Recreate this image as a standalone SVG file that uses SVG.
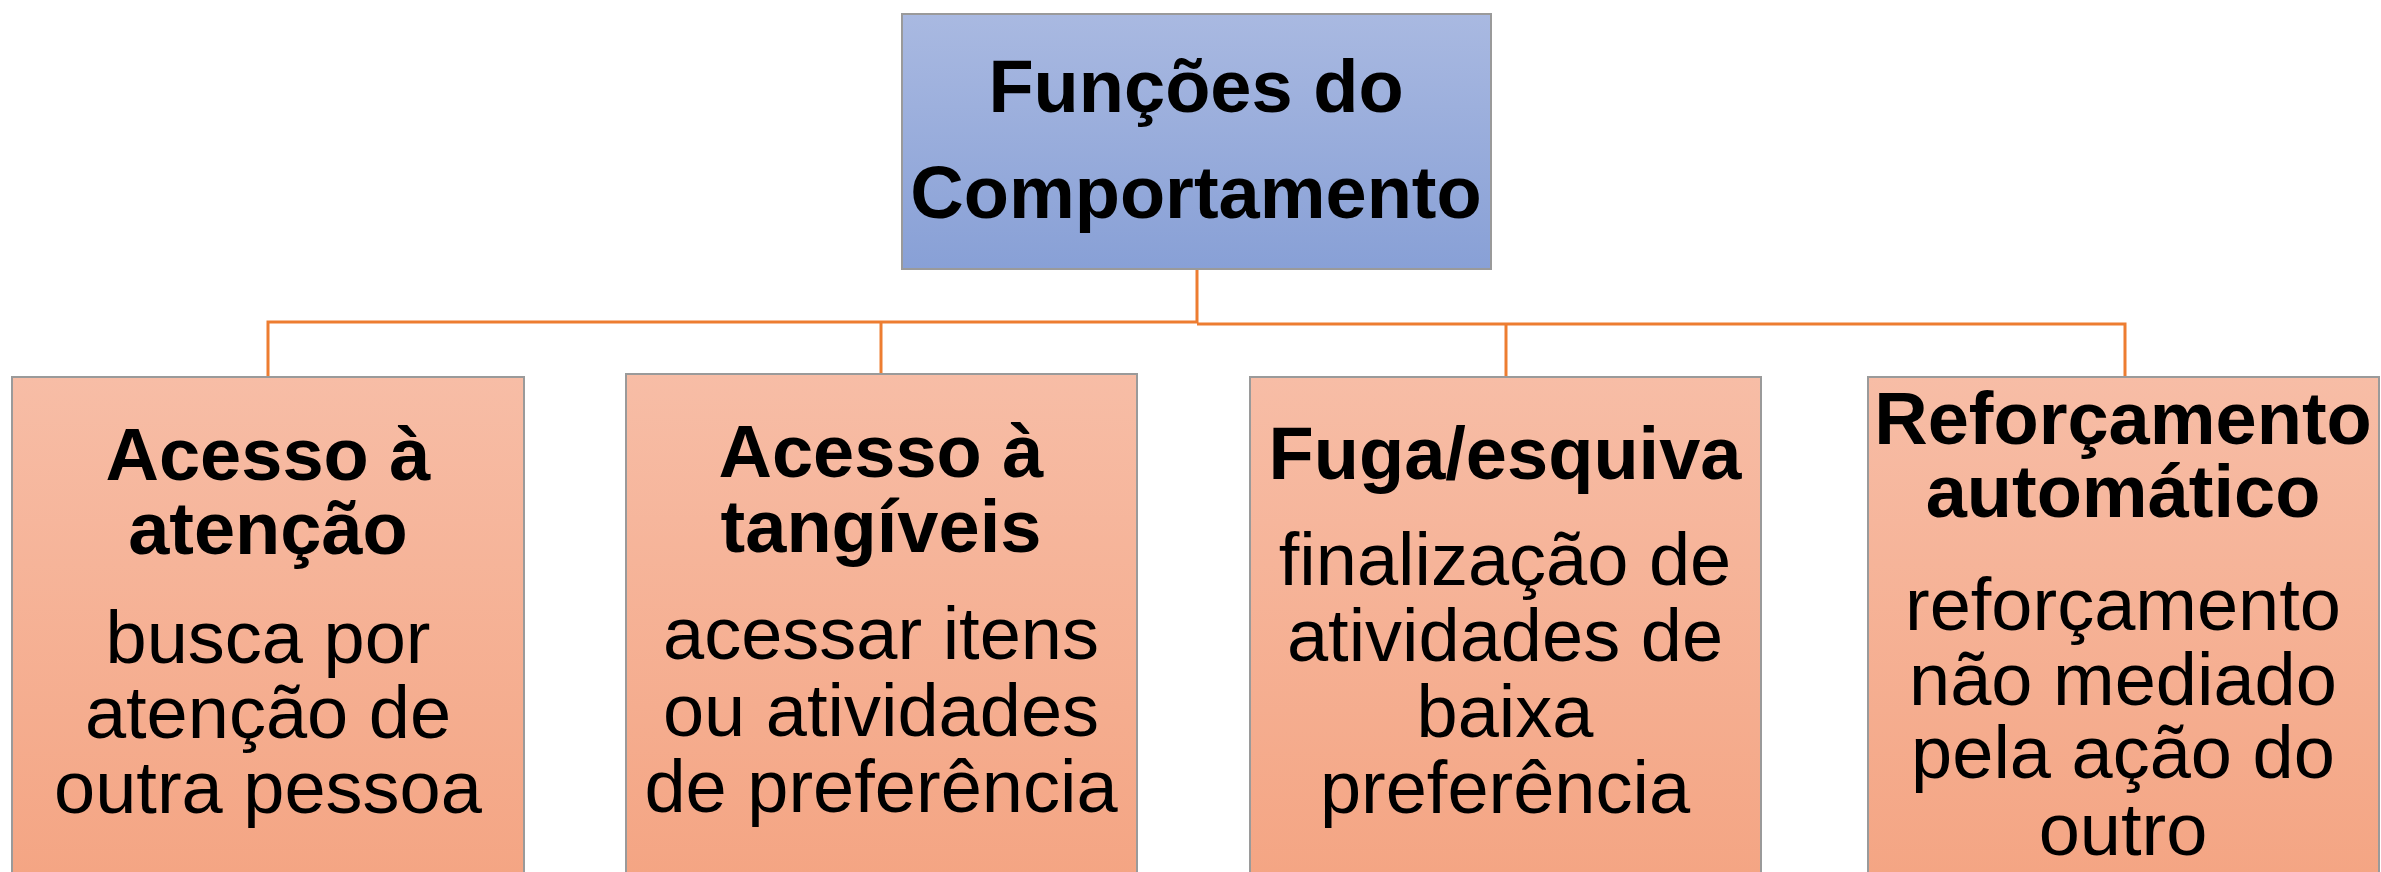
<svg xmlns="http://www.w3.org/2000/svg" width="2381" height="872" viewBox="0 0 2381 872">
<style>
.t{font-family:"Liberation Sans",Arial,sans-serif;font-size:74px;fill:#000;text-anchor:middle}
.b{font-weight:bold}
.box{stroke:#9a9a9a;stroke-width:2}
.con{fill:none;stroke:#ed7d31;stroke-width:3}
</style>
<defs>
<linearGradient id="gb" x1="0" y1="0" x2="0" y2="1">
<stop offset="0" stop-color="#a9b9e1"/>
<stop offset="1" stop-color="#88a0d6"/>
</linearGradient>
<linearGradient id="go" x1="0" y1="0" x2="0" y2="1">
<stop offset="0" stop-color="#f7bda6"/>
<stop offset="1" stop-color="#f4a482"/>
</linearGradient>
</defs>
<rect width="2381" height="872" fill="#fff"/>
<g id="connectors">
<path class="con" d="M1197,269 V322 H268 V377"/>
<path class="con" d="M881,322 V374"/>
<path class="con" d="M1197,324 H2125 V377"/>
<path class="con" d="M1506,324 V377"/>
</g>
<g id="root">
<rect class="box" x="902" y="14" width="589" height="255" fill="url(#gb)"/>
<text class="t b" x="1196" y="112">Funções do</text>
<text class="t b" x="1196" y="218">Comportamento</text>
</g>
<g id="n1">
<rect class="box" x="12" y="377" width="512" height="520" fill="url(#go)"/>
<text class="t b" x="268" y="480">Acesso à</text>
<text class="t b" x="268" y="554">atenção</text>
<text class="t" x="268" y="663">busca por</text>
<text class="t" x="268" y="738">atenção de</text>
<text class="t" x="268" y="813">outra pessoa</text>
</g>
<g id="n2">
<rect class="box" x="626" y="374" width="511" height="520" fill="url(#go)"/>
<text class="t b" x="881" y="477">Acesso à</text>
<text class="t b" x="881" y="552">tangíveis</text>
<text class="t" x="881" y="659">acessar itens</text>
<text class="t" x="881" y="736">ou atividades</text>
<text class="t" x="881" y="812">de preferência</text>
</g>
<g id="n3">
<rect class="box" x="1250" y="377" width="511" height="520" fill="url(#go)"/>
<text class="t b" x="1505" y="479">Fuga/esquiva</text>
<text class="t" x="1505" y="585">finalização de</text>
<text class="t" x="1505" y="661">atividades de</text>
<text class="t" x="1505" y="737">baixa</text>
<text class="t" x="1505" y="813">preferência</text>
</g>
<g id="n4">
<rect class="box" x="1868" y="377" width="511" height="520" fill="url(#go)"/>
<text class="t b" x="2123" y="444">Reforçamento</text>
<text class="t b" x="2123" y="517">automático</text>
<text class="t" x="2123" y="630">reforçamento</text>
<text class="t" x="2123" y="705">não mediado</text>
<text class="t" x="2123" y="778">pela ação do</text>
<text class="t" x="2123" y="855">outro</text>
</g>
</svg>
